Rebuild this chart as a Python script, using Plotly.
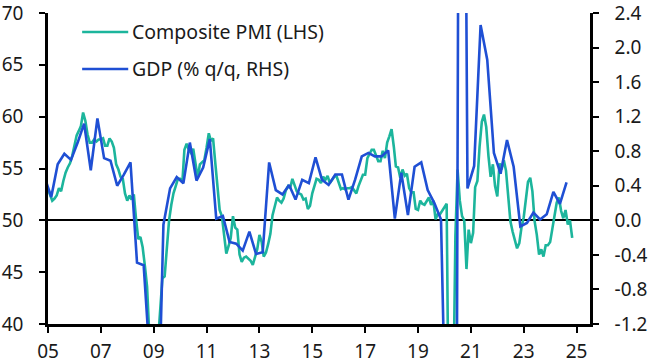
import pandas as pd
import plotly.graph_objects as go

# Monthly Composite PMI (LHS), Jan 2005 - Nov 2024
pmi_2005 = [53.0, 52.4, 51.9, 52.1, 52.4, 53.1, 52.8, 53.8, 54.6, 55.1, 55.5, 56.2]
pmi_2006 = [57.2, 58.2, 58.6, 59.1, 60.4, 59.6, 58.3, 57.5, 57.5, 57.8, 57.6, 57.8]
pmi_2007 = [57.8, 57.9, 57.2, 57.2, 57.9, 57.6, 57.0, 55.4, 54.9, 54.2, 54.0, 52.6]
pmi_2008 = [51.9, 52.4, 52.0, 52.5, 50.2, 48.2, 48.4, 47.4, 45.6, 43.6, 38.9, 38.2]
pmi_2009 = [38.3, 36.2, 38.3, 41.1, 44.4, 44.6, 47.0, 50.0, 51.5, 52.6, 53.3, 54.0]
pmi_2010 = [54.0, 53.7, 56.8, 57.4, 56.8, 56.5, 56.9, 55.6, 54.1, 55.4, 55.6, 55.8]
pmi_2011 = [57.0, 58.4, 57.7, 57.9, 55.6, 53.2, 51.0, 50.4, 48.6, 46.8, 47.5, 48.3]
pmi_2012 = [50.4, 49.3, 49.1, 46.7, 46.0, 46.4, 46.5, 46.3, 46.1, 45.7, 46.5, 47.2]
pmi_2013 = [48.6, 47.9, 46.5, 46.9, 47.7, 48.7, 50.5, 51.5, 52.2, 51.9, 51.7, 52.1]
pmi_2014 = [52.9, 53.3, 53.1, 54.0, 53.5, 52.8, 52.6, 52.5, 52.0, 52.1, 51.1, 51.4]
pmi_2015 = [52.6, 53.3, 54.0, 53.9, 53.6, 54.2, 53.9, 54.3, 53.6, 53.9, 54.2, 54.3]
pmi_2016 = [53.6, 53.0, 53.1, 53.0, 53.1, 53.1, 53.2, 52.9, 52.6, 53.3, 53.9, 54.4]
pmi_2017 = [54.4, 56.0, 56.4, 56.8, 56.8, 56.3, 55.7, 55.7, 56.7, 56.0, 57.5, 58.1]
pmi_2018 = [58.8, 57.1, 55.2, 55.1, 54.1, 54.9, 54.3, 54.5, 53.1, 52.7, 52.7, 51.1]
pmi_2019 = [51.0, 51.9, 51.6, 51.5, 51.8, 52.2, 51.5, 51.9, 50.1, 50.6, 50.6, 50.9]
pmi_2020 = [51.3, 51.6, 29.7, 13.6, 31.9, 48.5, 54.9, 51.9, 50.4, 50.0, 45.3, 49.1]
pmi_2021 = [47.8, 48.8, 53.2, 53.8, 57.1, 59.5, 60.2, 59.0, 56.2, 54.2, 55.4, 53.3]
pmi_2022 = [52.3, 55.5, 54.9, 55.8, 54.8, 52.0, 49.9, 48.9, 48.1, 47.3, 47.8, 49.3]
pmi_2023 = [50.3, 52.0, 53.7, 54.1, 52.8, 49.9, 48.6, 46.7, 47.2, 46.5, 47.6, 47.6]
pmi_2024 = [47.9, 49.2, 50.3, 51.7, 52.2, 50.9, 50.2, 51.0, 49.6, 50.0, 48.3]

pmi_values = (pmi_2005 + pmi_2006 + pmi_2007 + pmi_2008 + pmi_2009 + pmi_2010 +
              pmi_2011 + pmi_2012 + pmi_2013 + pmi_2014 + pmi_2015 + pmi_2016 +
              pmi_2017 + pmi_2018 + pmi_2019 + pmi_2020 + pmi_2021 + pmi_2022 +
              pmi_2023 + pmi_2024)
pmi_dates = pd.date_range("2005-01-01", periods=len(pmi_values), freq="MS")

# Quarterly GDP (% q/q, RHS), Q4 2004 - Q3 2024 (plotted mid-quarter)
gdp_2004 = [0.50]
gdp_2005 = [0.27, 0.65, 0.77, 0.70]
gdp_2006 = [0.90, 1.12, 0.58, 1.18]
gdp_2007 = [0.72, 0.69, 0.40, 0.53]
gdp_2008 = [0.67, -0.49, -0.52, -1.70]
gdp_2009 = [-3.00, -0.05, 0.37, 0.50]
gdp_2010 = [0.43, 0.90, 0.46, 0.61]
gdp_2011 = [0.94, 0.02, 0.05, -0.25]
gdp_2012 = [-0.27, -0.35, -0.13, -0.39]
gdp_2013 = [-0.37, 0.67, 0.35, 0.30]
gdp_2014 = [0.41, 0.24, 0.47, 0.43]
gdp_2015 = [0.73, 0.47, 0.41, 0.53]
gdp_2016 = [0.53, 0.24, 0.47, 0.74]
gdp_2017 = [0.78, 0.74, 0.74, 0.81]
gdp_2018 = [0.02, 0.55, 0.06, 0.62]
gdp_2019 = [0.67, 0.35, 0.20, 0.01]
gdp_2020 = [-3.50, -11.50, 12.50, 0.37]
gdp_2021 = [0.63, 2.26, 1.86, 0.78]
gdp_2022 = [0.54, 0.93, 0.62, -0.07]
gdp_2023 = [-0.03, 0.09, 0.01, 0.07]
gdp_2024 = [0.33, 0.19, 0.44]

gdp_values = (gdp_2004 + gdp_2005 + gdp_2006 + gdp_2007 + gdp_2008 + gdp_2009 +
              gdp_2010 + gdp_2011 + gdp_2012 + gdp_2013 + gdp_2014 + gdp_2015 +
              gdp_2016 + gdp_2017 + gdp_2018 + gdp_2019 + gdp_2020 + gdp_2021 +
              gdp_2022 + gdp_2023 + gdp_2024)
gdp_dates = pd.date_range("2004-11-01", periods=len(gdp_values), freq="3MS") + pd.Timedelta(days=14)

# Tick labels
x_tick_years = [2005, 2007, 2009, 2011, 2013, 2015, 2017, 2019, 2021, 2023, 2025]
x_tick_text = ["05", "07", "09", "11", "13", "15", "17", "19", "21", "23", "25"]
left_ticks = [40, 45, 50, 55, 60, 65, 70]
right_ticks = [-1.2, -0.8, -0.4, 0.0, 0.4, 0.8, 1.2, 1.6, 2.0, 2.4]
right_tick_text = ["-1.2", "-0.8", "-0.4", "0.0", "0.4", "0.8", "1.2", "1.6", "2.0", "2.4"]

series_names = ["Composite PMI (LHS)", "GDP (% q/q, RHS)"]
GREEN = "#1cb59c"
BLUE = "#1f4fd4"
FONT = "Noto Sans"

fig = go.Figure()
fig.add_trace(go.Scatter(x=pmi_dates, y=pmi_values, mode="lines", name=series_names[0],
                         line=dict(color=GREEN, width=2.6), yaxis="y", showlegend=False))
fig.add_trace(go.Scatter(x=gdp_dates, y=gdp_values, mode="lines", name=series_names[1],
                         line=dict(color=BLUE, width=2.6), yaxis="y2", showlegend=False))

# Legend drawn as line samples + text
legend_y = [0.939, 0.820]
for name, col, yy in zip(series_names, [GREEN, BLUE], legend_y):
    fig.add_shape(type="line", xref="paper", yref="paper", x0=0.063, x1=0.148, y0=yy, y1=yy,
                  line=dict(color=col, width=2.6))
    fig.add_annotation(xref="paper", yref="paper", x=0.152, y=yy, text=name, showarrow=False,
                       xanchor="left", yanchor="middle", font=dict(family=FONT, size=19.5, color="#1a1a1a"))

axis_font = dict(family=FONT, size=19, color="#1a1a1a")
common = dict(showgrid=False, showline=True, linecolor="black", linewidth=2.5,
              ticks="outside", ticklen=6, tickwidth=2, tickcolor="black",
              tickfont=axis_font, automargin=False, ticklabeloverflow="allow")
fig.update_layout(
    width=649, height=363,
    margin=dict(l=48, r=59, t=13, b=39, autoexpand=False),
    plot_bgcolor="white", paper_bgcolor="white",
    font=axis_font,
    xaxis=dict(type="date", range=["2005-01-01", "2025-07-05"],
               tickvals=[f"{y}-01-01" for y in x_tick_years], ticktext=x_tick_text,
               zeroline=False, ticklabelstandoff=2, **common),
    yaxis=dict(range=[40, 70], tickvals=left_ticks, ticktext=[str(v) for v in left_ticks],
               zeroline=False, ticklabelstandoff=12, **common),
    yaxis2=dict(range=[-1.2, 2.4], tickvals=right_ticks, ticktext=right_tick_text,
                overlaying="y", side="right",
                zeroline=True, zerolinecolor="black", zerolinewidth=2,
                ticklabelstandoff=12, **common),
)

fig.write_html("out.html", config={"displayModeBar": False},
               post_script="document.body.style.margin='0';document.body.style.overflow='hidden';")
